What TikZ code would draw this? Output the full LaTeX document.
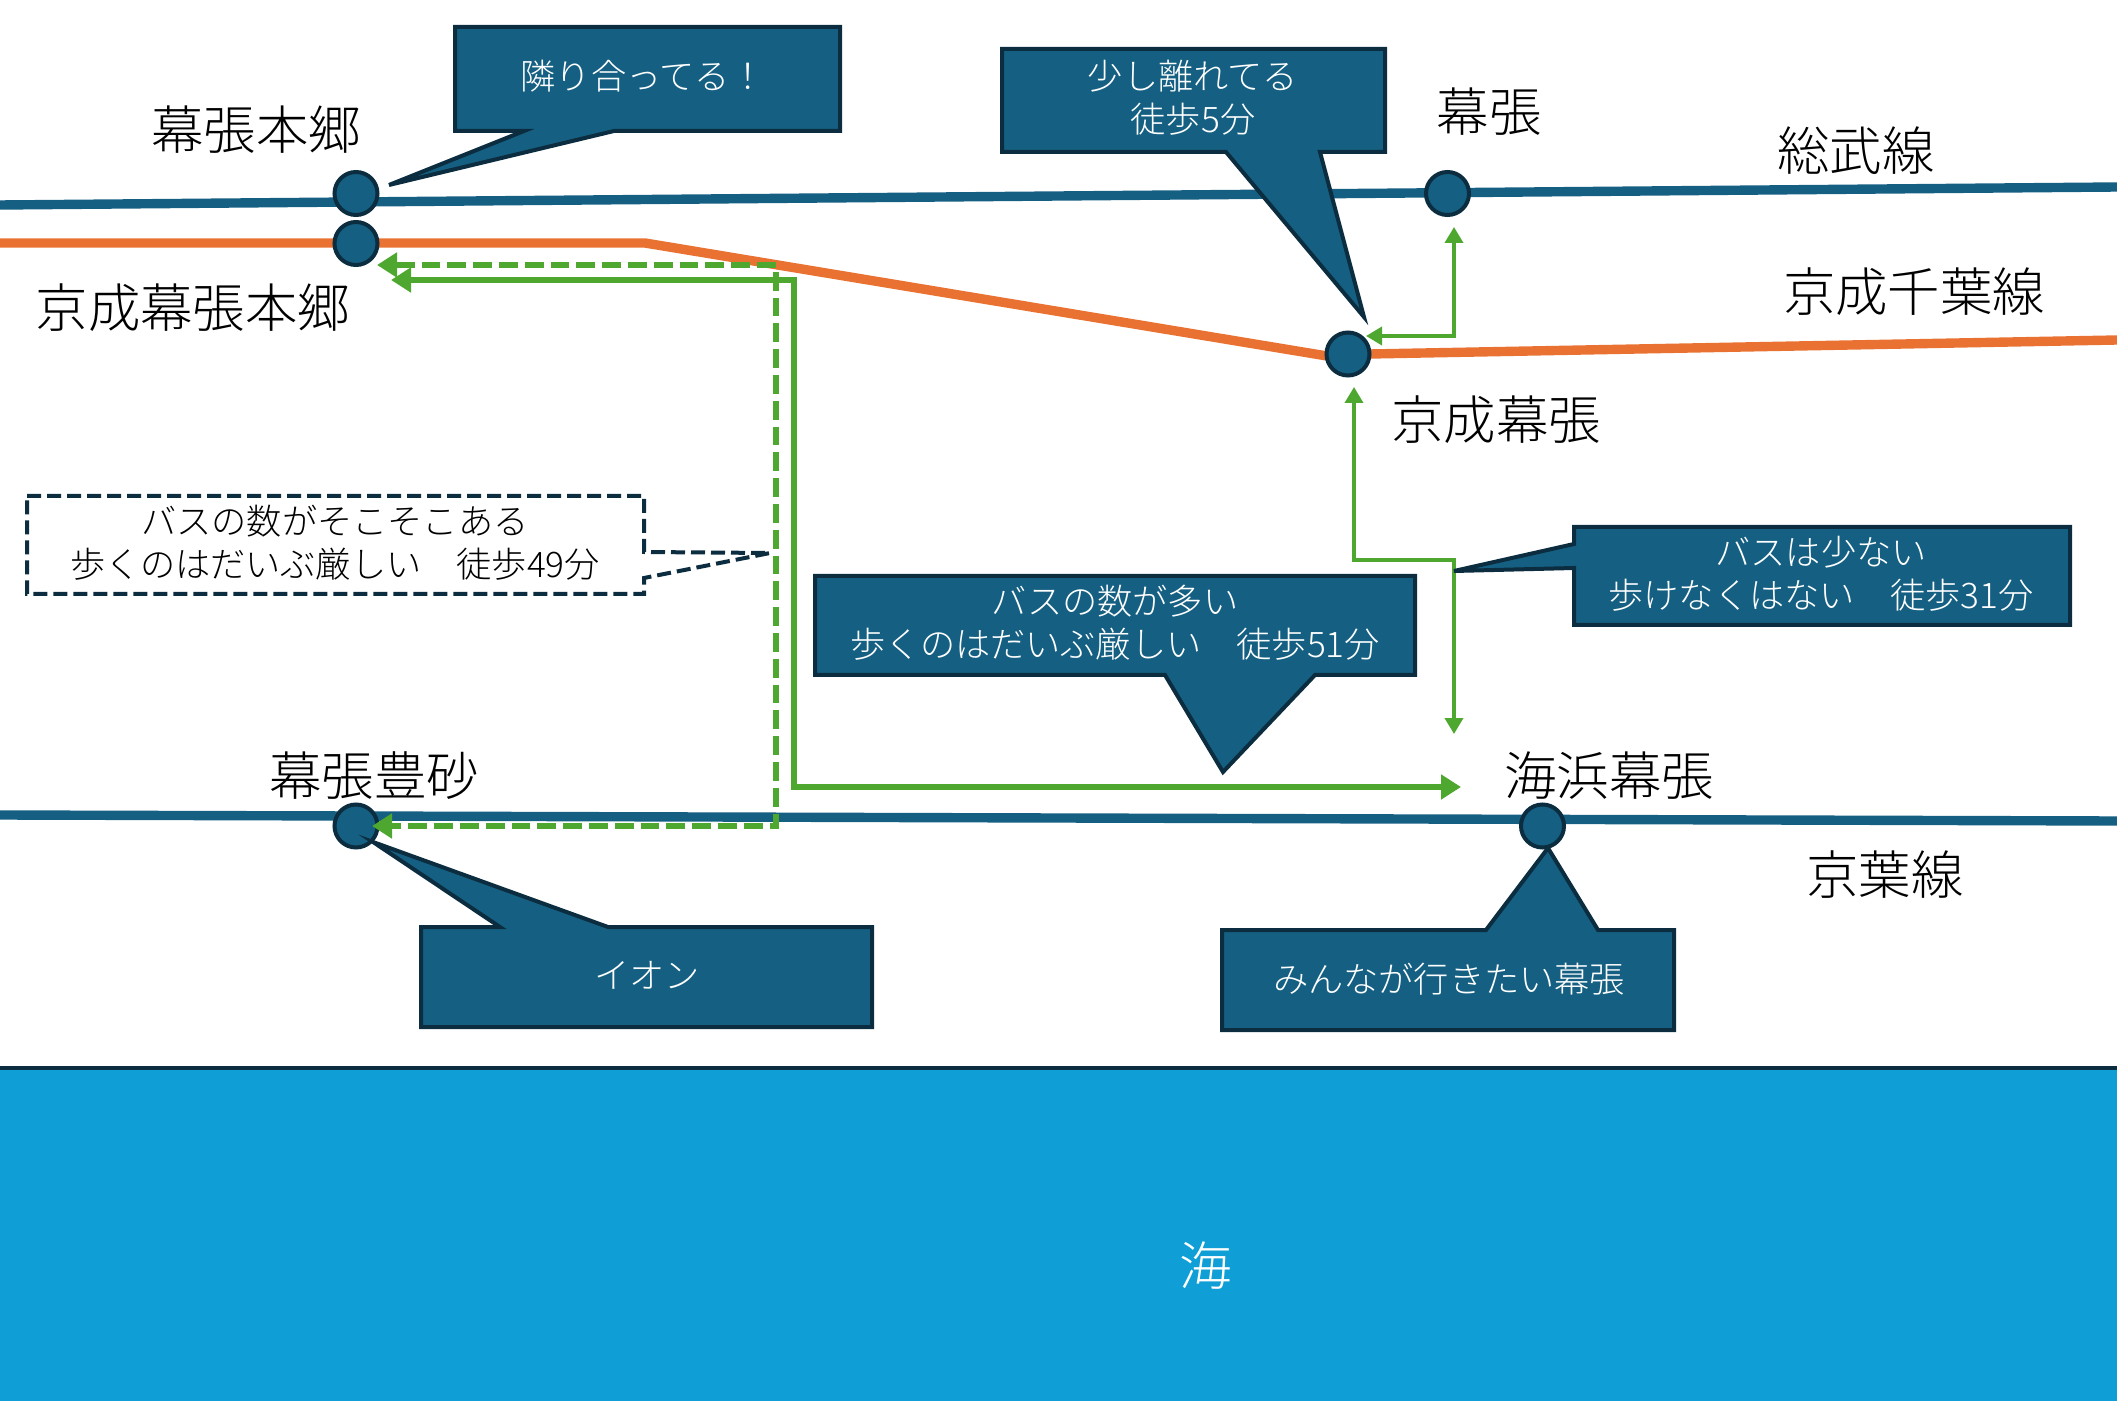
\documentclass[tikz,border=0pt]{standalone}
\usepackage{fontspec}
\setmainfont{Noto Sans CJK JP Light}
\usetikzlibrary{arrows.meta}
\definecolor{blu}{HTML}{156082}
\definecolor{dk}{HTML}{0B2D3F}
\definecolor{org}{HTML}{E97132}
\definecolor{grn}{HTML}{4EA72E}
\definecolor{sea}{HTML}{0F9ED5}
\tikzset{
 rail/.style={line width=4.7pt,blu},
 orail/.style={line width=4.7pt,org},
 stn/.style={circle,draw=dk,fill=blu,line width=2pt,minimum size=21.5pt,inner sep=0pt},
 lab/.style={font=\fontsize{26.2}{30}\selectfont,text=black,inner sep=0pt},
 ctxt/.style={font=\fontsize{17.6}{21.5}\selectfont,text=white,align=center,inner sep=0pt},
 dtxt/.style={ctxt,text=black},
 call/.style={draw=dk,fill=blu,line width=2pt,line join=miter},
 dcall/.style={draw=dk,fill=white,line width=2pt,dash pattern=on 7pt off 3pt},
 fat/.style={grn,line width=3pt,{Triangle[length=10pt,width=12pt]}-{Triangle[length=10pt,width=12pt]}},
 fatd/.style={fat,dash pattern=on 9.4pt off 3.5pt},
 thin/.style={grn,line width=1.8pt,{Triangle[length=8pt,width=9pt]}-{Triangle[length=8pt,width=9pt]}},
}
\begin{document}
\begin{tikzpicture}[x=0.5pt,y=-0.5pt]
\useasboundingbox (0,0) rectangle (2117,1401);
% sea
\fill[sea] (0,1068) rectangle (2117,1401);
\draw[dk,line width=1.6pt] (0,1068) -- (2117,1068);
\node[font=\fontsize{26.2}{30}\selectfont,text=white,inner sep=0pt] (umi) at (1206,1266) {海};
% lines
\coordinate (sL) at (0,205); \coordinate (sR) at (2117,187);
\coordinate (kL) at (0,815); \coordinate (kR) at (2117,821);
\coordinate (oL) at (0,243); \coordinate (oA) at (645,243); \coordinate (oB) at (1327,356);
\coordinate (oC) at (1370,354); \coordinate (oR) at (2117,340);
\draw[rail] (sL) -- (sR);
\draw[rail] (kL) -- (kR);
\draw[orail,line join=miter] (oL) -- (oA) -- (oB) -- (oC) -- (oR);
% green routes
\node[stn] (hongo) at (356,193.5) {};
\node[stn] (khongo) at (356,243.5) {};
\node[stn] (mak) at (1447.5,193.5) {};
\node[stn] (kmak) at (1348,354) {};
\node[stn] (toyo) at (356,826) {};
\node[stn] (kaihin) at (1542.5,826) {};
\coordinate (a1) at (391,280); \coordinate (a2) at (793.5,280); \coordinate (a3) at (793.5,787); \coordinate (a4) at (1461,787);
\draw[fat] (a1) -- (a2) -- (a3) -- (a4);
\coordinate (b1) at (377,265); \coordinate (b2) at (776,265); \coordinate (b3) at (776,826); \coordinate (b4) at (372,826);
\draw[fatd] (b1) -- (b2) -- (b3) -- (b4);
\coordinate (c1) at (1454,734); \coordinate (c2) at (1454,560); \coordinate (c3) at (1354,560); \coordinate (c4) at (1354,387);
\draw[thin] (c1) -- (c2) -- (c3) -- (c4);
\coordinate (d1) at (1366,336); \coordinate (d2) at (1454,336); \coordinate (d3) at (1454,227);
\draw[thin] (d1) -- (d2) -- (d3);
% labels
\node[lab] (l1) at (256,130) {幕張本郷};
\node[lab] (l2) at (193,308) {京成幕張本郷};
\node[lab] (l3) at (1489,112) {幕張};
\node[lab] (l4) at (1856,151) {総武線};
\node[lab] (l5) at (1914,292) {京成千葉線};
\node[lab] (l6) at (1496,420) {京成幕張};
\node[lab] (l7) at (374,776) {幕張豊砂};
\node[lab] (l8) at (1609,776) {海浜幕張};
\node[lab] (l9) at (1885,875) {京葉線};
% callouts
\draw[call] (455,27) -- (840,27) -- (840,131) -- (614,131) -- (389,185) -- (524,131) -- (455,131) -- cycle;
\node[ctxt] (t1) at (643,76) {隣り合ってる！};
\draw[call] (1002,49) -- (1385,49) -- (1385,152) -- (1320,152) -- (1364,317) -- (1226,152) -- (1002,152) -- cycle;
\node[ctxt] (t2) at (1193,98) {少し離れてる\\徒歩5分};
\draw[call] (1574,527) -- (2070,527) -- (2070,625) -- (1574,625) -- (1574,568) -- (1454,571) -- (1574,544) -- cycle;
\node[ctxt] (t3) at (1821,574) {バスは少ない\\歩けなくはない　徒歩31分};
\draw[call] (815,576) -- (1415,576) -- (1415,675) -- (1315,675) -- (1223,772) -- (1165,675) -- (815,675) -- cycle;
\node[ctxt] (t4) at (1115,623) {バスの数が多い\\歩くのはだいぶ厳しい　徒歩51分};
\draw[call] (421,927) -- (500,927) -- (373,842) -- (608,927) -- (872,927) -- (872,1027) -- (421,1027) -- cycle;
\node[ctxt] (t5) at (647,975) {イオン};
\draw[call] (1222,930) -- (1486,930) -- (1548,848) -- (1598,930) -- (1674,930) -- (1674,1030) -- (1222,1030) -- cycle;
\node[ctxt] (t6) at (1449,979) {みんなが行きたい幕張};
\draw[dcall] (27,496) -- (644,496) -- (644,552) -- (770,553) -- (644,578) -- (644,594) -- (27,594) -- cycle;
\node[dtxt] (t7) at (335,543) {バスの数がそこそこある\\歩くのはだいぶ厳しい　徒歩49分};
\end{tikzpicture}
\end{document}
